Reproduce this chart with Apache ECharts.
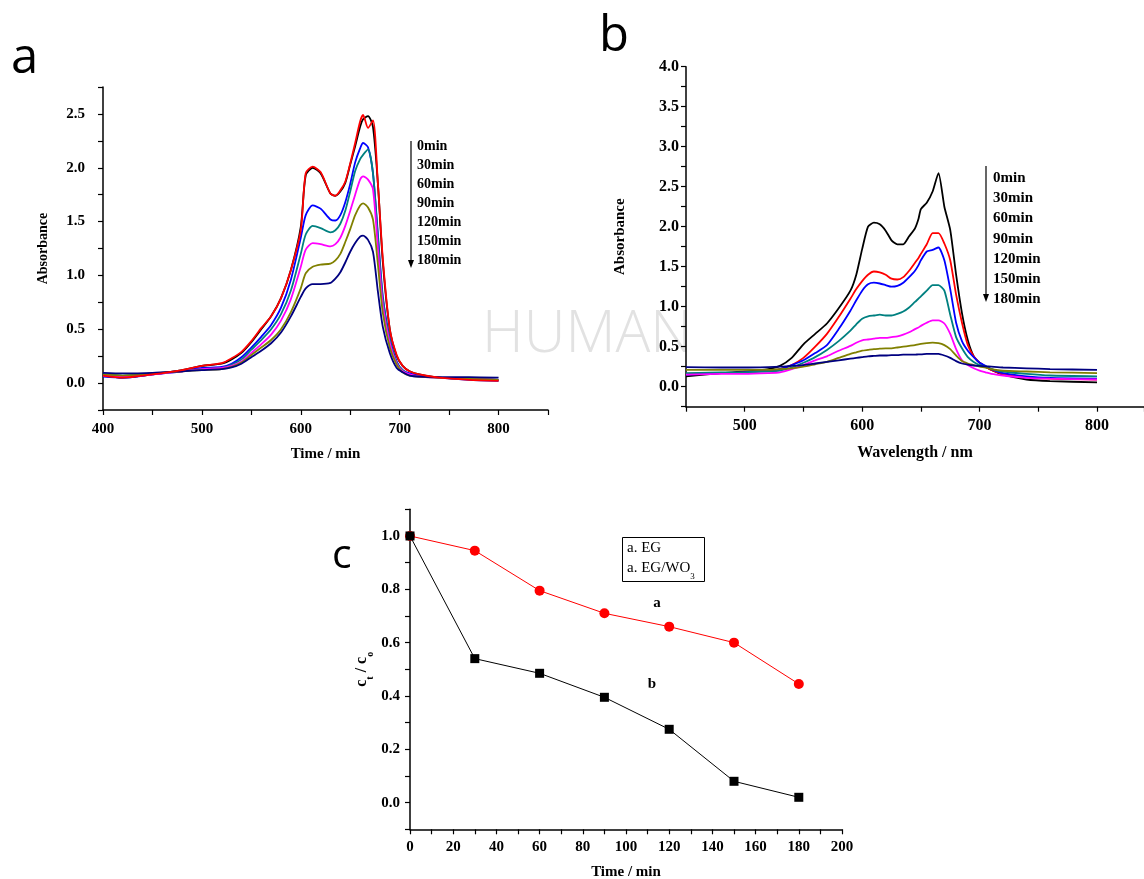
<!DOCTYPE html>
<html><head><meta charset="utf-8">
<script src="https://cdn.jsdelivr.net/npm/echarts@6/dist/echarts.min.js"></script>
<style>html,body{margin:0;padding:0;background:#fff}#c{width:1144px;height:879px}</style>
</head><body><div id="c"></div>
<script>
// ---------- DATA ----------
const SERIES_NAMES = ['0min','30min','60min','90min','120min','150min','180min'];
const COLORS = ['#000000','#ff0000','#0000ff','#008080','#ff00ff','#808000','#000080'];

// Panel a
const WL_A = [400,420,450,480,500,520,530,540,550,560,570,580,590,600,605,612,620,630,635,640,645,650,655,660,663,668,673,678,683,690,697,703,710,720,740,770,800];
const A_0   = [0.07,0.05,0.08,0.12,0.16,0.18,0.22,0.28,0.38,0.5,0.62,0.79,1.05,1.45,1.93,2.0,1.95,1.76,1.74,1.78,1.86,2.03,2.2,2.38,2.45,2.48,2.38,1.85,1.12,0.5,0.25,0.16,0.11,0.08,0.05,0.04,0.03];
const A_30  = [0.07,0.05,0.08,0.12,0.16,0.185,0.23,0.29,0.39,0.51,0.62,0.79,1.05,1.42,1.95,2.01,1.96,1.76,1.74,1.79,1.87,2.04,2.23,2.43,2.49,2.37,2.44,1.85,1.15,0.5,0.26,0.16,0.11,0.08,0.05,0.03,0.02];
const A_60  = [0.06,0.05,0.08,0.11,0.14,0.15,0.18,0.24,0.33,0.43,0.54,0.7,0.96,1.35,1.56,1.65,1.62,1.52,1.51,1.56,1.68,1.85,2.05,2.18,2.23,2.19,1.95,1.38,0.8,0.42,0.2,0.12,0.09,0.07,0.05,0.03,0.02];
const A_90  = [0.08,0.07,0.09,0.11,0.13,0.14,0.17,0.22,0.31,0.4,0.5,0.64,0.86,1.2,1.38,1.46,1.44,1.4,1.42,1.48,1.6,1.78,1.97,2.08,2.12,2.17,1.95,1.35,0.78,0.4,0.19,0.12,0.08,0.06,0.05,0.04,0.03];
const A_120 = [0.07,0.06,0.08,0.11,0.13,0.14,0.16,0.2,0.28,0.36,0.45,0.58,0.78,1.08,1.24,1.3,1.29,1.27,1.29,1.35,1.46,1.6,1.75,1.89,1.92,1.89,1.8,1.25,0.72,0.37,0.18,0.11,0.08,0.06,0.05,0.04,0.03];
const A_150 = [0.08,0.07,0.09,0.11,0.12,0.13,0.15,0.19,0.26,0.33,0.4,0.5,0.66,0.88,1.02,1.08,1.1,1.11,1.14,1.2,1.31,1.43,1.56,1.65,1.67,1.63,1.52,1.1,0.65,0.33,0.17,0.1,0.07,0.06,0.05,0.04,0.03];
const A_180 = [0.095,0.09,0.095,0.11,0.12,0.13,0.145,0.18,0.24,0.3,0.37,0.47,0.62,0.8,0.88,0.92,0.92,0.93,0.97,1.03,1.12,1.22,1.3,1.36,1.37,1.33,1.22,0.85,0.52,0.28,0.14,0.1,0.07,0.06,0.055,0.055,0.05];

// Panel b
const WL_B = [450,480,500,520,530,540,550,560,570,580,590,595,600,605,610,615,620,625,630,635,640,645,648,650,655,660,665,670,675,680,685,690,695,700,705,710,720,740,760,800];
const B_0   = [0.13,0.17,0.19,0.22,0.26,0.36,0.53,0.66,0.79,0.98,1.2,1.4,1.72,2.0,2.05,2.03,1.95,1.83,1.78,1.78,1.88,1.98,2.1,2.22,2.3,2.44,2.67,2.25,1.96,1.4,0.92,0.58,0.38,0.3,0.25,0.21,0.15,0.09,0.07,0.055];
const B_30  = [0.16,0.17,0.18,0.2,0.22,0.27,0.36,0.5,0.66,0.87,1.1,1.22,1.32,1.4,1.44,1.43,1.4,1.35,1.34,1.37,1.45,1.55,1.61,1.66,1.78,1.92,1.92,1.79,1.58,1.15,0.8,0.52,0.38,0.3,0.25,0.21,0.16,0.12,0.1,0.09];
const B_60  = [0.15,0.17,0.18,0.2,0.22,0.27,0.33,0.42,0.52,0.72,0.95,1.08,1.2,1.28,1.3,1.29,1.27,1.25,1.26,1.3,1.37,1.45,1.52,1.58,1.69,1.71,1.74,1.58,1.22,0.8,0.57,0.45,0.37,0.3,0.26,0.22,0.17,0.13,0.11,0.1];
const B_90  = [0.17,0.18,0.18,0.19,0.2,0.24,0.3,0.37,0.46,0.57,0.7,0.78,0.85,0.88,0.89,0.9,0.89,0.89,0.91,0.94,0.99,1.06,1.1,1.13,1.2,1.27,1.27,1.2,0.9,0.62,0.48,0.37,0.31,0.27,0.25,0.22,0.19,0.16,0.14,0.13];
const B_120 = [0.15,0.16,0.16,0.17,0.18,0.22,0.27,0.33,0.38,0.45,0.51,0.55,0.58,0.59,0.6,0.61,0.61,0.62,0.63,0.65,0.68,0.72,0.74,0.76,0.8,0.83,0.83,0.79,0.66,0.47,0.33,0.27,0.23,0.2,0.18,0.16,0.14,0.11,0.1,0.09];
const B_150 = [0.21,0.21,0.21,0.21,0.22,0.23,0.25,0.28,0.31,0.36,0.41,0.43,0.45,0.46,0.47,0.475,0.48,0.48,0.49,0.5,0.51,0.52,0.53,0.535,0.545,0.55,0.545,0.52,0.47,0.39,0.32,0.29,0.27,0.25,0.24,0.22,0.2,0.19,0.18,0.17];
const B_180 = [0.245,0.24,0.24,0.245,0.25,0.26,0.27,0.29,0.31,0.33,0.35,0.36,0.37,0.38,0.385,0.39,0.39,0.395,0.395,0.4,0.4,0.4,0.405,0.405,0.41,0.41,0.41,0.39,0.36,0.32,0.29,0.275,0.265,0.26,0.255,0.25,0.24,0.23,0.22,0.21];

// Panel c
const TIME_C = [0,30,60,90,120,150,180];
const C_EG   = [1.0,0.945,0.795,0.71,0.66,0.60,0.445];
const C_EGWO = [1.0,0.54,0.485,0.395,0.275,0.08,0.02];

// ---------- STYLE ----------
const SERIF = '"Liberation Serif","Times New Roman",serif';
const A_SETS = [A_0,A_30,A_60,A_90,A_120,A_150,A_180];
const B_SETS = [B_0,B_30,B_60,B_90,B_120,B_150,B_180];
const zip = (xs, ys) => xs.map((x,i)=>[x, ys[i]]);
const axisLine = {onZero:false, lineStyle:{color:'#000', width:1.5}};
const tick = {show:true, inside:false, length:5, lineStyle:{color:'#000', width:1.2}};
const lbl = (size, margin, fmt) => ({color:'#000', fontFamily:SERIF, fontWeight:'bold', fontSize:size, margin:margin, formatter:fmt});
const half = v => { const k=v*2; return Math.abs(k-Math.round(k))<1e-6; };

const series = [];
A_SETS.forEach((d,i)=>series.push({type:'line', name:'a'+SERIES_NAMES[i], xAxisIndex:0, yAxisIndex:0, data:zip(WL_A,d), showSymbol:false, smooth:0.25, lineStyle:{color:COLORS[i], width:1.8}, z: i===1?10:3}));
B_SETS.forEach((d,i)=>series.push({type:'line', name:'b'+SERIES_NAMES[i], xAxisIndex:1, yAxisIndex:1, data:zip(WL_B,d), showSymbol:false, smooth:0.2, lineStyle:{color:COLORS[i], width:1.8}, z:3}));
series.push({type:'line', name:'a. EG', xAxisIndex:2, yAxisIndex:2, data:zip(TIME_C,C_EG), symbol:'circle', symbolSize:10, itemStyle:{color:'#ff0000'}, lineStyle:{color:'#ff0000', width:1}});
series.push({type:'line', name:'a. EG/WO3', xAxisIndex:2, yAxisIndex:2, data:zip(TIME_C,C_EGWO), symbol:'rect', symbolSize:9, itemStyle:{color:'#000'}, lineStyle:{color:'#000', width:1}});

const graphics = [];
// watermark
graphics.push({type:'text', left:482, top:306, z:-10, style:{text:'HUMAN', fill:'#e2e2e2', font:'300 58px "Open Sans", sans-serif'}});
// panel letters
graphics.push({type:'text', left:11, top:35, style:{text:'a', fill:'#000', font:'49px "Open Sans", sans-serif'}});
graphics.push({type:'text', left:599, top:13, style:{text:'b', fill:'#000', font:'49px "Open Sans", sans-serif'}});
graphics.push({type:'text', left:332, top:536, style:{text:'c', fill:'#000', font:'41px "Open Sans", sans-serif'}});
// arrows + time labels
function arrowLegend(x, y0, y1, tx, ys, size){
  graphics.push({type:'line', shape:{x1:x, y1:y0, x2:x, y2:y1-6}, style:{stroke:'#000', lineWidth:1.2}});
  graphics.push({type:'polygon', shape:{points:[[x-3,y1-8],[x+3,y1-8],[x,y1]]}, style:{fill:'#000'}});
  SERIES_NAMES.forEach((n,i)=>graphics.push({type:'text', x:tx, y:ys[i], style:{text:n, fill:'#000', font:'bold '+size+'px '+SERIF, textVerticalAlign:'middle'}}));
}
arrowLegend(411, 141, 268, 417, [146,165,184,203,222,241,260], 14);
arrowLegend(986, 166, 302, 993, [178,198,218,239,259,279,299], 15);
// legend box in c
graphics.push({type:'rect', shape:{x:622.5, y:537.5, width:82, height:44}, style:{fill:'#fff', stroke:'#000', lineWidth:1}, z:5});
graphics.push({type:'text', x:627, y:548, z:6, style:{text:'a. EG', fill:'#000', font:'15px '+SERIF, textVerticalAlign:'middle'}});
graphics.push({type:'text', x:627, y:561, z:6, style:{text:'{m|a. EG/WO}{s|3}', fill:'#000', font:'15px '+SERIF, rich:{m:{fontFamily:SERIF, fontSize:15, lineHeight:18, verticalAlign:'top'}, s:{fontFamily:SERIF, fontSize:9, lineHeight:9, padding:[11,0,0,0], verticalAlign:'top'}}}});
// curve labels in c
graphics.push({type:'text', x:657, y:603, style:{text:'a', fill:'#000', font:'bold 15px '+SERIF, textAlign:'center', textVerticalAlign:'middle'}});
graphics.push({type:'text', x:652, y:684, style:{text:'b', fill:'#000', font:'bold 15px '+SERIF, textAlign:'center', textVerticalAlign:'middle'}});

const option = {
  animation:false,
  backgroundColor:'#fff',
  grid:[
    {left:103, right:596, top:87, bottom:469, outerBoundsMode:'none', containLabel:false},
    {left:686, right:0, top:66.7, bottom:472.3, outerBoundsMode:'none', containLabel:false},
    {left:410, right:302, top:509.3, bottom:49.7, outerBoundsMode:'none', containLabel:false}
  ],
  xAxis:[
    {gridIndex:0, type:'value', min:400, max:850, interval:50, splitLine:{show:false}, axisLine, axisTick:tick,
     axisLabel:lbl(15, 12, v=> (v%100===0 && v<=800)? String(v):''),
     name:'Time / min', nameLocation:'middle', nameGap:37, nameTextStyle:{color:'#000', fontFamily:SERIF, fontWeight:'bold', fontSize:15}},
    {gridIndex:1, type:'value', min:450, max:840, interval:50, splitLine:{show:false}, axisLine, axisTick:tick,
     axisLabel:lbl(16, 11, v=> (v%100===0 && v<=800)? String(v):''),
     name:'Wavelength / nm', nameLocation:'middle', nameGap:38, nameTextStyle:{color:'#000', fontFamily:SERIF, fontWeight:'bold', fontSize:16}},
    {gridIndex:2, type:'value', min:0, max:200, interval:10, splitLine:{show:false}, axisLine, axisTick:tick,
     axisLabel:lbl(15, 10, v=> (Math.round(v)%20===0)? String(v):''),
     name:'Time / min', nameLocation:'middle', nameGap:35, nameTextStyle:{color:'#000', fontFamily:SERIF, fontWeight:'bold', fontSize:15}}
  ],
  yAxis:[
    {gridIndex:0, type:'value', min:-0.25, max:2.75, interval:0.25, splitLine:{show:false}, axisLine, axisTick:tick,
     axisLabel:lbl(15, 18, v=> (half(v) && v>-0.01 && v<2.6)? v.toFixed(1):''),
     name:'Absorbance', nameLocation:'middle', nameGap:53, nameTextStyle:{color:'#000', fontFamily:SERIF, fontWeight:'bold', fontSize:14}},
    {gridIndex:1, type:'value', min:-0.25, max:4.0, interval:0.25, splitLine:{show:false}, axisLine, axisTick:tick,
     axisLabel:lbl(16, 7, v=> (half(v) && v>-0.01)? v.toFixed(1):''),
     name:'Absorbance', nameLocation:'middle', nameGap:58, nameTextStyle:{color:'#000', fontFamily:SERIF, fontWeight:'bold', fontSize:15}},
    {gridIndex:2, type:'value', min:-0.1, max:1.1, interval:0.1, splitLine:{show:false}, axisLine, axisTick:tick,
     axisLabel:lbl(15, 10, v=> { const k=Math.round(v*10); return (k%2===0 && k>=0 && k<=10)? (k/10).toFixed(1):''; }),
     name:'{m|c}{s|t}{m| / c}{s|o}', nameLocation:'middle', nameGap:36,
     nameTextStyle:{color:'#000', fontFamily:SERIF, fontWeight:'bold', fontSize:16,
       rich:{m:{fontFamily:SERIF, fontWeight:'bold', fontSize:16, lineHeight:20, verticalAlign:'top', color:'#000'},
             s:{fontFamily:SERIF, fontWeight:'bold', fontSize:10, lineHeight:10, padding:[11,0,0,0], verticalAlign:'top', color:'#000'}}}}
  ],
  graphic:graphics,
  series
};
const chart = echarts.init(document.getElementById('c'), null, {renderer:'canvas'});
chart.setOption(option);
</script></body></html>
